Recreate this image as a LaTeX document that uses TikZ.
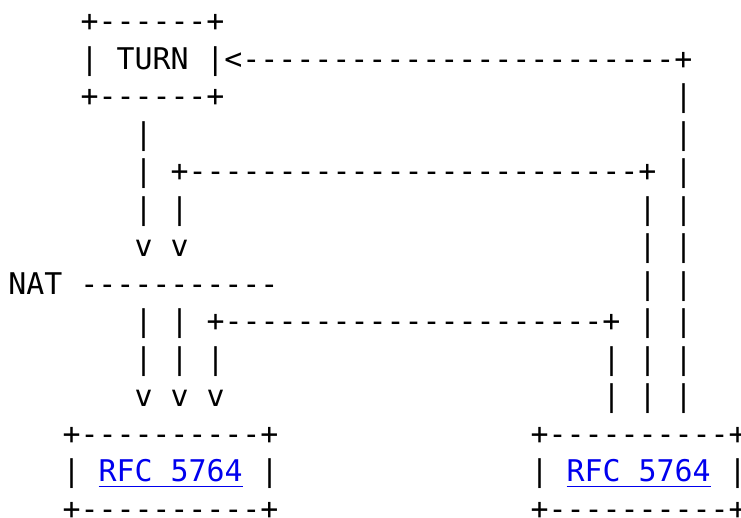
\documentclass[tikz,border=0pt]{standalone}
\usepackage{fontspec}
\setmonofont{DejaVu Sans Mono}
\definecolor{linkblue}{RGB}{0,0,238}
\tikzset{
  txt/.style={anchor=base west, inner sep=0pt, outer sep=0pt,
    font=\ttfamily\fontsize{29.9}{37.5}\selectfont, text=black},
  lnk/.style={txt, text=linkblue},
  uline/.style={draw=linkblue, line width=1.6pt}
}
\newcommand\T[5][txt]{\node[#1] (#2) at ({8.5+#4*18.0}, {-(294.3+(#3-7)*37.5)}) {#5};}
\begin{document}
\begin{tikzpicture}[x=1pt,y=1pt]
\useasboundingbox (0,0) rectangle (741,-517);
% row 0
\T{r0a}{0}{4}{+------+}
% row 1
\T{r1a}{1}{4}{| TURN |<------------------------+}
% row 2
\T{r2a}{2}{4}{+------+}
\T{r2b}{2}{37}{|}
% row 3
\T{r3a}{3}{7}{|}
\T{r3b}{3}{37}{|}
% row 4
\T{r4a}{4}{7}{|}
\T{r4b}{4}{9}{+-------------------------+}
\T{r4c}{4}{37}{|}
% row 5
\T{r5a}{5}{7}{|}
\T{r5b}{5}{9}{|}
\T{r5c}{5}{35}{|}
\T{r5d}{5}{37}{|}
% row 6
\T{r6a}{6}{7}{v}
\T{r6b}{6}{9}{v}
\T{r6c}{6}{35}{|}
\T{r6d}{6}{37}{|}
% row 7
\T{r7a}{7}{0}{NAT -----------}
\T{r7c}{7}{35}{|}
\T{r7d}{7}{37}{|}
% row 8
\T{r8a}{8}{7}{|}
\T{r8b}{8}{9}{|}
\T{r8c}{8}{11}{+---------------------+}
\T{r8d}{8}{35}{|}
\T{r8e}{8}{37}{|}
% row 9
\T{r9a}{9}{7}{|}
\T{r9b}{9}{9}{|}
\T{r9c}{9}{11}{|}
\T{r9d}{9}{33}{|}
\T{r9e}{9}{35}{|}
\T{r9f}{9}{37}{|}
% row 10
\T{r10a}{10}{7}{v}
\T{r10b}{10}{9}{v}
\T{r10c}{10}{11}{v}
\T{r10d}{10}{33}{|}
\T{r10e}{10}{35}{|}
\T{r10f}{10}{37}{|}
% row 11
\T{r11a}{11}{3}{+----------+}
\T{r11b}{11}{29}{+----------+}
% row 12
\T{r12a}{12}{3}{|}
\T[lnk]{linkL}{12}{5}{RFC 5764}
\T{r12b}{12}{14}{|}
\T{r12c}{12}{29}{|}
\T[lnk]{linkR}{12}{31}{RFC 5764}
\T{r12d}{12}{40}{|}
\draw[uline] ([yshift=-4.5pt]linkL.base west) -- ([yshift=-4.5pt]linkL.base east);
\draw[uline] ([yshift=-4.5pt]linkR.base west) -- ([yshift=-4.5pt]linkR.base east);
% row 13
\T{r13a}{13}{3}{+----------+}
\T{r13b}{13}{29}{+----------+}
\end{tikzpicture}
\end{document}
